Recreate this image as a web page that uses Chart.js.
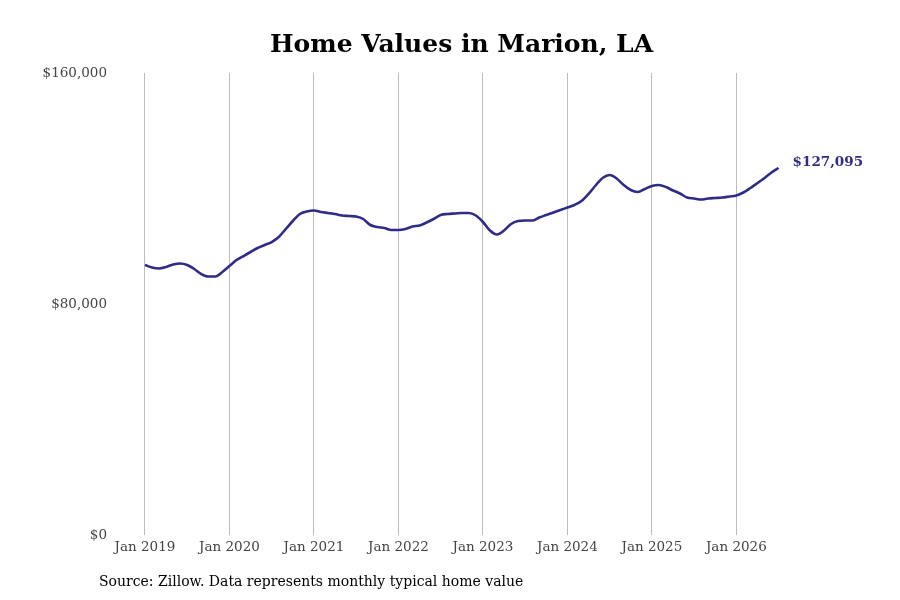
<!DOCTYPE html>
<html>
<head>
<meta charset="utf-8">
<script src="https://cdn.jsdelivr.net/npm/chart.js@4.4.1/dist/chart.umd.min.js"></script>
<style>
  html, body { margin: 0; padding: 0; background: #ffffff; }
  #wrap { position: relative; width: 900px; height: 600px; }
  canvas { display: block; }
</style>
</head>
<body>
<div id="wrap"><canvas id="c" width="900" height="600"></canvas></div>
<script>
// ---- Data (monthly typical home value, Jan 2019 – Jul 2026) ----
const titleText = 'Home Values in Marion, LA';
const sourceText = 'Source: Zillow. Data represents monthly typical home value';
const startYear = 2019;
const xTickLabels = ['Jan 2019', 'Jan 2020', 'Jan 2021', 'Jan 2022', 'Jan 2023', 'Jan 2024', 'Jan 2025', 'Jan 2026'];
const yTickValues = [0, 80000, 160000];
const values2019 = [93510, 92640, 92290, 92810, 93680, 94030, 93510, 92120, 90390, 89520, 89520, 91080];
const values2020 = [93160, 95240, 96620, 98010, 99390, 100430, 101470, 103200, 105970, 108740, 111170, 112040];
const values2021 = [112380, 111860, 111520, 111170, 110650, 110480, 110300, 109440, 107360, 106670, 106320, 105630];
const values2022 = [105630, 105970, 106840, 107190, 108230, 109440, 110820, 111170, 111340, 111520, 111520, 110650];
const values2023 = [108400, 105450, 104070, 105450, 107710, 108740, 108920, 108920, 109960, 110820, 111690, 112550];
const values2024 = [113420, 114290, 115670, 118100, 121040, 123640, 124680, 123460, 121210, 119480, 118790, 119830];
const values2025 = [120870, 121210, 120520, 119310, 118270, 116880, 116540, 116190, 116540, 116710, 116880, 117230];
const values2026 = [117580, 118610, 120170, 121900, 123640, 125540, 127095];
const lastLabel = '$127,095';

const allValues = [].concat(values2019, values2020, values2021, values2022, values2023, values2024, values2025, values2026);
const points = allValues.map((v, i) => ({ x: i, y: v }));

const lineColor = '#2f2b87';
const serif = "'DejaVu Serif', serif";

const textPlugin = {
  id: 'textPlugin',
  afterDraw(chart) {
    const ctx = chart.ctx;
    ctx.save();
    // title
    ctx.fillStyle = '#000000';
    ctx.font = "bold 25px " + serif;
    ctx.textAlign = 'center';
    ctx.textBaseline = 'alphabetic';
    ctx.fillText(titleText, 461.5, 52);
    // source
    ctx.font = "14px " + serif;
    ctx.textAlign = 'left';
    ctx.textBaseline = 'middle';
    ctx.fillText(sourceText, 99, 582);
    // last value label
    const meta = chart.getDatasetMeta(0);
    const last = meta.data[meta.data.length - 1];
    ctx.fillStyle = lineColor;
    ctx.font = "bold 13.5px " + serif;
    ctx.textAlign = 'left';
    ctx.textBaseline = 'middle';
    ctx.fillText(lastLabel, last.x + 14, last.y - 6);
    ctx.restore();
  }
};

new Chart(document.getElementById('c'), {
  type: 'line',
  data: {
    datasets: [{
      data: points,
      borderColor: lineColor,
      borderWidth: 2.6,
      pointRadius: 0,
      pointHoverRadius: 0,
      tension: 0.4,
      cubicInterpolationMode: 'monotone',
      fill: false
    }]
  },
  options: {
    responsive: false,
    animation: false,
    devicePixelRatio: 1,
    layout: { padding: { top: 73, right: 51, bottom: 35, left: 0 } },
    plugins: {
      legend: { display: false },
      tooltip: { enabled: false },
      title: { display: false }
    },
    scales: {
      x: {
        type: 'linear',
        min: -4.4,
        max: 100,
        border: { display: false },
        grid: { display: true, color: '#bdbdbd', lineWidth: 1, drawTicks: false },
        afterBuildTicks(axis) {
          axis.ticks = xTickLabels.map((_, i) => ({ value: i * 12 }));
        },
        afterFit(axis) { axis.height = 30; },
        ticks: {
          padding: 4,
          color: '#444444',
          font: { family: serif, size: 13.5 },
          maxRotation: 0,
          autoSkip: false,
          callback(value) {
            const idx = Math.round(value / 12);
            return xTickLabels[idx] || '';
          }
        }
      },
      y: {
        min: 0,
        max: 160000,
        border: { display: false },
        grid: { display: false, drawTicks: false },
        afterBuildTicks(axis) {
          axis.ticks = yTickValues.map(v => ({ value: v }));
        },
        afterFit(axis) { axis.width = 114; },
        ticks: {
          padding: 7,
          color: '#444444',
          font: { family: serif, size: 13.5 },
          callback(value) { return '$' + value.toLocaleString('en-US'); }
        }
      }
    }
  },
  plugins: [textPlugin]
});
</script>
</body>
</html>
